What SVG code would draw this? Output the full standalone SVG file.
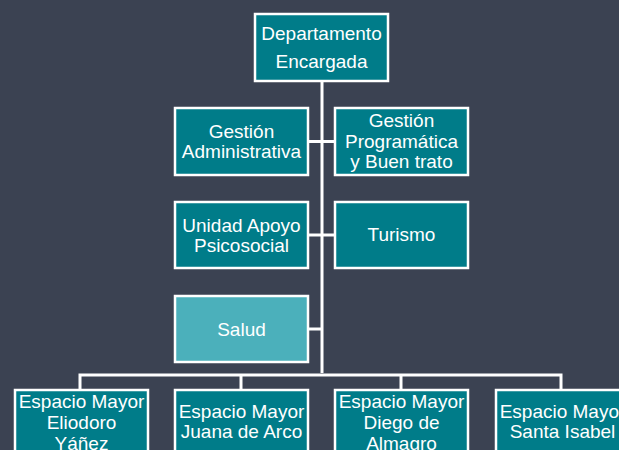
<svg xmlns="http://www.w3.org/2000/svg" width="619" height="450" viewBox="0 0 619 450">
<style>
.bg{fill:#3b4252}
.box{fill:#007c89;stroke:#ffffff;stroke-width:2.5}
.box2{fill:#4bb0bb;stroke:#ffffff;stroke-width:2.5}
.conn{stroke:#ffffff;stroke-width:3;fill:none}
text{font-family:"Liberation Sans",Arial,sans-serif;font-size:19px;fill:#ffffff;text-anchor:middle}
</style>
<rect class="bg" x="0" y="0" width="619" height="450"/>
<g id="connectors">
<path class="conn" d="M322,81 V373"/>
<path class="conn" d="M308,141.5 H335"/>
<path class="conn" d="M308,235 H335"/>
<path class="conn" d="M308,329 H322"/>
<path class="conn" d="M80,391 V375 H561 V391"/>
<path class="conn" d="M241,375 V391"/>
<path class="conn" d="M401,375 V391"/>
</g>
<g id="n-departamento">
<rect class="box" x="255" y="14" width="133" height="67"/>
<text x="321.5" y="40">Departamento</text>
<text x="321.5" y="68">Encargada</text>
</g>
<g id="n-gestion-admin">
<rect class="box" x="175" y="108" width="133" height="67"/>
<text x="241.5" y="138">Gestión</text>
<text x="241.5" y="158">Administrativa</text>
</g>
<g id="n-gestion-prog">
<rect class="box" x="335" y="108" width="133" height="67"/>
<text x="401.5" y="127">Gestión</text>
<text x="401.5" y="148">Programática</text>
<text x="401.5" y="168">y Buen trato</text>
</g>
<g id="n-unidad">
<rect class="box" x="175" y="202" width="133" height="66"/>
<text x="241.5" y="232">Unidad Apoyo</text>
<text x="241.5" y="252">Psicosocial</text>
</g>
<g id="n-turismo">
<rect class="box" x="335" y="202" width="133" height="66"/>
<text x="401.5" y="241">Turismo</text>
</g>
<g id="n-salud">
<rect class="box2" x="175" y="296" width="133" height="66"/>
<text x="241.5" y="336">Salud</text>
</g>
<g id="n-eliodoro">
<rect class="box" x="15" y="390" width="133" height="67"/>
<text x="81.5" y="408">Espacio Mayor</text>
<text x="81.5" y="429">Eliodoro</text>
<text x="81.5" y="450">Yáñez</text>
</g>
<g id="n-juana">
<rect class="box" x="175" y="390" width="133" height="67"/>
<text x="241.5" y="418">Espacio Mayor</text>
<text x="241.5" y="438">Juana de Arco</text>
</g>
<g id="n-diego">
<rect class="box" x="335" y="390" width="133" height="67"/>
<text x="401.5" y="408">Espacio Mayor</text>
<text x="401.5" y="429">Diego de</text>
<text x="401.5" y="450">Almagro</text>
</g>
<g id="n-santa">
<rect class="box" x="496" y="390" width="133" height="67"/>
<text x="562.5" y="418">Espacio Mayor</text>
<text x="562.5" y="438">Santa Isabel</text>
</g>
</svg>
